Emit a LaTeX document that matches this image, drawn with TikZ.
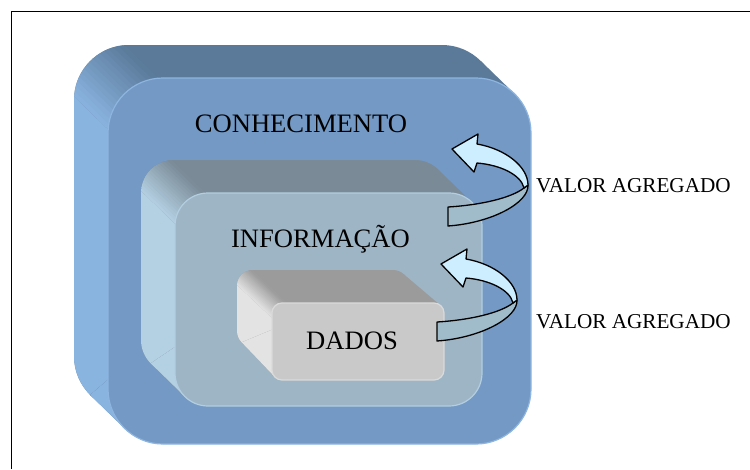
\documentclass[tikz,border=0pt]{standalone}
\usepackage{fontspec}
\setmainfont{Liberation Serif}
\definecolor{otop}{HTML}{5B7A9A}
\definecolor{oleft}{HTML}{8AB4E0}
\definecolor{ofront}{HTML}{7399C4}
\definecolor{orim}{HTML}{8DB5E0}
\definecolor{mtop}{HTML}{7A8B97}
\definecolor{mleft}{HTML}{B4D0E3}
\definecolor{mfront}{HTML}{9EB5C5}
\definecolor{mrim}{HTML}{B2CEE0}
\definecolor{itop}{HTML}{9B9B9B}
\definecolor{ileft}{HTML}{E3E3E3}
\definecolor{ifront}{HTML}{C9C9C9}
\definecolor{irim}{HTML}{DADADA}
\definecolor{arrowlight}{HTML}{CCEEFF}
\definecolor{arrowdark}{HTML}{A0BCCB}
\tikzset{
  arrlight/.style={fill=arrowlight, draw=black, line width=1.3pt, line join=round},
  arrdark/.style={fill=arrowdark, draw=black, line width=1.3pt, line join=round},
  boxlabel/.style={inner sep=0pt, anchor=base, font=\fontsize{26.6}{30}\selectfont},
  vallabel/.style={inner sep=0pt, anchor=base west, font=\fontsize{21.2}{24}\selectfont},
}
% paint the side colours (dark top, light left, gradient between)
\newcommand\extpaint[1]{%
  \fill[#1top] (0,0) rectangle (750,469);
  \fill[#1left] ({\emx-\ew/2*\eux-600*\evx},{\emy-\ew/2*\euy-600*\evy})
     -- ({\emx-\ew/2*\eux+600*\evx},{\emy-\ew/2*\euy+600*\evy})
     -- ({\emx-600*\eux+600*\evx},{\emy-600*\euy+600*\evy})
     -- ({\emx-600*\eux-600*\evx},{\emy-600*\euy-600*\evy}) -- cycle;
  \foreach \i in {0,...,15}{%
    \pgfmathsetmacro\ta{-\ew/2+\i*\ew/16}%
    \pgfmathsetmacro\tb{\ta+\ew/16+0.6}%
    \pgfmathtruncatemacro\pc{100-(\i+0.5)*100/16}%
    \fill[#1left!\pc!#1top] ({\emx+\ta*\eux-600*\evx},{\emy+\ta*\euy-600*\evy})
      -- ({\emx+\ta*\eux+600*\evx},{\emy+\ta*\euy+600*\evy})
      -- ({\emx+\tb*\eux+600*\evx},{\emy+\tb*\euy+600*\evy})
      -- ({\emx+\tb*\eux-600*\evx},{\emy+\tb*\euy-600*\evy}) -- cycle;
  }%
}
% #1 x1 #2 y1 #3 x2 #4 y2 (front face), #5 front radius, #6 back radius, #7 dx, #8 dy, #9 colour prefix
\newcommand\extbox[9]{%
  \pgfmathsetmacro\ebxa{#1-#7}\pgfmathsetmacro\ebya{#2-#8}%
  \pgfmathsetmacro\ebxb{#3-#7}\pgfmathsetmacro\ebyb{#4-#8}%
  \pgfmathsetmacro\ekb{0.2929*#6}\pgfmathsetmacro\ekf{0.2929*#5}%
  \pgfmathsetmacro\en{sqrt((#7)^2+(#8)^2)}%
  \pgfmathsetmacro\evx{#7/\en}\pgfmathsetmacro\evy{#8/\en}%
  \pgfmathsetmacro\eux{\evy}\pgfmathsetmacro\euy{-\evx}%
  \pgfmathsetmacro\emx{(\ebxa+#6+#1+#5)/2}\pgfmathsetmacro\emy{(\ebya+#6+#2+#5)/2}%
  \pgfmathsetmacro\ew{1.3*#6}%
  \begin{scope}
    \clip[rounded corners=#6pt] (\ebxa,\ebya) rectangle (\ebxb,\ebyb);
    \extpaint{#9}
  \end{scope}
  \begin{scope}
    \clip ({\ebxb-\ekb},{\ebya+\ekb}) -- ({#3-\ekf},{#2+\ekf}) -- ({#1+\ekf},{#4-\ekf}) -- ({\ebxa+\ekb},{\ebyb-\ekb}) -- cycle;
    \extpaint{#9}
  \end{scope}
  \fill[#9front, draw=#9rim, line width=1.2pt, rounded corners=#5pt] (#1,#2) rectangle (#3,#4);
}
\newcommand\valarrow[2]{%
  \begin{scope}[shift={(#1,#2)}]
    \path[arrdark] (517,300) .. controls (518,318) and (480,338) .. (437,341)
      -- (437,322) .. controls (470,320) and (500,313) .. (513,303) -- cycle;
    \path[arrlight] (441,264) -- (467,249) -- (466,259)
      .. controls (495,264) and (517,282) .. (517,300) -- (513,303)
      .. controls (510,290) and (490,280) .. (466,278) -- (463,287) -- cycle;
  \end{scope}}
\begin{document}
\begin{tikzpicture}[x=1pt,y=-1pt]
\useasboundingbox (0,0) rectangle (750,469);
\fill[white] (0,0) rectangle (750,469);
\draw[line width=1.3pt] (11.5,469) -- (11.5,11.5) -- (750,11.5);
% boxes
\extbox{108}{78}{531}{444}{55}{55}{34}{33}{o}
\extbox{175}{193}{482}{406}{33}{33}{34}{33}{m}
\extbox{272}{303}{444}{380}{10}{16}{35}{33}{i}
% arrows
\valarrow{11}{-115}
\valarrow{0}{0}
% labels
\node[boxlabel] (conh) at (301,132) {CONHECIMENTO};
\node[boxlabel] (info) at (320.5,247) {INFORMAÇÃO};
\node[boxlabel] (dados) at (352,349) {DADOS};
\node[vallabel] (val1) at (536,192) {VALOR AGREGADO};
\node[vallabel] (val2) at (536,328.5) {VALOR AGREGADO};
\end{tikzpicture}
\end{document}
